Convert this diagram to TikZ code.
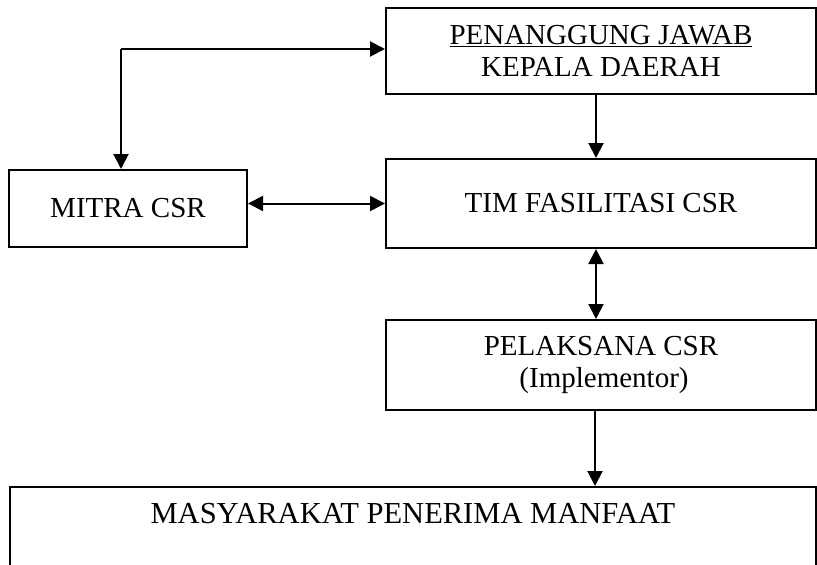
\documentclass[tikz,border=0pt]{standalone}
\usepackage{fontspec}
\setmainfont{Liberation Serif}
\usetikzlibrary{arrows.meta}
\tikzset{
  box/.style={draw, line width=2pt, rectangle, align=center, inner sep=0pt,
    font=\fontsize{29}{32}\selectfont},
  conn/.style={line width=2pt, -{Triangle[length=15pt,width=15pt]}},
  biconn/.style={line width=2pt, {Triangle[length=15pt,width=15pt]}-{Triangle[length=15pt,width=15pt]}}
}
\begin{document}
\begin{tikzpicture}[x=1pt,y=-1pt]
\useasboundingbox (0,0) rectangle (817,565);
\clip (0,0) rectangle (817,565);
\node[box, minimum width=430pt, minimum height=86pt] (top) at (601,51)
  {\underline{PENANGGUNG JAWAB}\\KEPALA DAERAH};
\node[box, minimum width=430pt, minimum height=89pt] (tim) at (601,203.5)
  {TIM FASILITASI CSR};
\node[box, minimum width=238pt, minimum height=77pt] (mitra) at (128,208.5)
  {MITRA CSR};
\node[box, minimum width=430pt, minimum height=90pt] (pel) at (601,365)
  {PELAKSANA CSR\\\hspace*{6pt}(Implementor)};
\node[box, minimum width=806pt, minimum height=130pt, anchor=north] (masy) at (413,486) {};
\node[font=\fontsize{30.5}{34}\selectfont, anchor=base, inner sep=0pt] (masytext) at (413,523)
  {MASYARAKAT PENERIMA MANFAAT};
\coordinate (corner) at (121,49);
\draw[conn] (corner) -- (top.west |- corner);
\draw[conn] (corner) -- (corner |- mitra.north);
\draw[biconn] (mitra.east |- tim.west) -- (tim.west);
\draw[conn] ([xshift=-5pt]top.south) -- ([xshift=-5pt]tim.north);
\draw[biconn] ([xshift=-5pt]tim.south) -- ([xshift=-5pt]pel.north);
\draw[conn] ([xshift=-6pt]pel.south) -- ([xshift=-6pt]pel.south |- masy.north);
\end{tikzpicture}
\end{document}
